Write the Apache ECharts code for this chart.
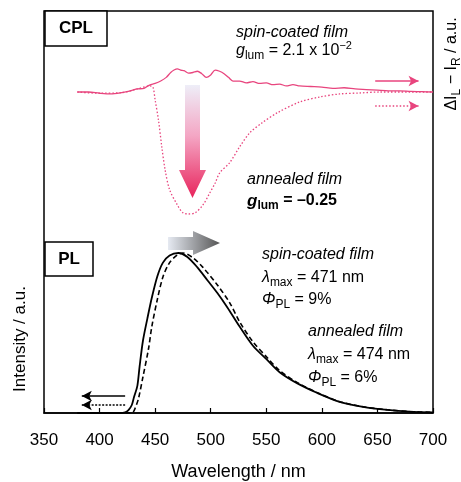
<!DOCTYPE html>
<html>
<head>
<meta charset="utf-8">
<script src="https://cdn.jsdelivr.net/npm/echarts@6.0.0/dist/echarts.min.js"></script>
<style>
  html, body { margin: 0; padding: 0; background: #fff; }
  #chart { width: 461px; height: 482px; }
</style>
</head>
<body>
<div id="chart"></div>
<script>
var FONT = '"Liberation Sans", Arial, sans-serif';
var PINK = '#e8457e';

// x axis (nm)
var xTicks = [350, 400, 450, 500, 550, 600, 650, 700];

// CPL, spin-coated film (right axis, a.u., baseline 0)
var cplSpinX = [380, 390, 400, 410, 420, 428, 434, 440, 445, 450, 455, 460, 464, 467, 470, 473, 476, 480, 484, 488, 492, 496, 500, 504, 508, 512, 516, 520, 526, 532, 538, 544, 550, 556, 562, 568, 574, 580, 590, 600, 610, 620, 630, 640, 650, 660, 670, 680, 690, 700];
var cplSpinY = [0, 0, -0.01, -0.016, -0.005, 0.01, 0.025, 0.03, 0.057, 0.07, 0.09, 0.12, 0.16, 0.18, 0.19, 0.18, 0.175, 0.155, 0.16, 0.17, 0.15, 0.12, 0.14, 0.18, 0.17, 0.15, 0.12, 0.09, 0.09, 0.075, 0.085, 0.07, 0.075, 0.06, 0.065, 0.05, 0.06, 0.05, 0.045, 0.04, 0.03, 0.035, 0.025, 0.02, 0.015, 0.01, 0.01, 0.005, 0.003, 0];

// CPL, annealed film
var cplAnnealX = [380, 400, 420, 434, 445, 448, 450, 453, 456, 459, 463, 470, 475, 480, 486, 493, 499, 504, 508, 517, 526, 535, 546, 560, 580, 598, 616, 634, 652, 700];
var cplAnnealY = [0, -0.01, -0.005, 0.025, 0.05, 0.04, -0.066, -0.23, -0.45, -0.64, -0.8, -0.926, -0.99, -1.0, -0.99, -0.926, -0.83, -0.746, -0.664, -0.58, -0.45, -0.336, -0.254, -0.17, -0.082, -0.041, -0.016, -0.008, 0, 0];

// PL, spin-coated film (left axis, normalised)
var plSpinX = [380, 400, 418, 423, 426, 429, 431, 434, 436, 439, 443, 447, 452, 457, 463, 471, 479, 488, 497, 506, 515, 526, 538, 551, 562, 578, 596, 616, 637, 659, 679, 700];
var plSpinY = [0, 0, 0, 0.004, 0.018, 0.05, 0.1, 0.17, 0.29, 0.45, 0.59, 0.72, 0.855, 0.94, 0.985, 1, 0.975, 0.91, 0.83, 0.75, 0.66, 0.54, 0.42, 0.33, 0.255, 0.185, 0.125, 0.07, 0.038, 0.019, 0.008, 0.003];

// PL, annealed film
var plAnnealX = [380, 400, 425, 430, 432, 435, 439, 444, 447, 452, 457, 463, 470, 475, 484, 493, 506, 517, 526, 538, 551, 562, 578, 596, 616, 637, 659, 679, 700];
var plAnnealY = [0, 0, 0, 0.005, 0.03, 0.09, 0.225, 0.4, 0.54, 0.71, 0.85, 0.94, 0.988, 1, 0.97, 0.91, 0.8, 0.69, 0.57, 0.445, 0.345, 0.265, 0.19, 0.127, 0.071, 0.039, 0.02, 0.009, 0.004];

// little arrows next to the curves: [x from, x to, y]
var cplArrowSpin = [648, 687, 0.09];
var cplArrowAnneal = [648, 687, -0.115];
var plArrowSpin = [423, 384, 0.106];
var plArrowAnneal = [423, 384, 0.05];

function pairs(xs, ys) {
  return xs.map(function (x, i) { return [x, ys[i]]; });
}

function arrow(a, color, type) {
  return {
    silent: true,
    animation: false,
    symbol: ['none', 'arrow'],
    symbolSize: [8, 10],
    label: { show: false },
    lineStyle: { color: color, width: 1.5, type: type },
    data: [[{ coord: [a[0], a[2]] }, { coord: [a[1], a[2]] }]]
  };
}

var rich = {
  n: { fontFamily: FONT, fontSize: 16, color: '#000', lineHeight: 22 },
  i: { fontFamily: FONT, fontSize: 16, fontStyle: 'italic', color: '#000', lineHeight: 22 },
  b: { fontFamily: FONT, fontSize: 16, fontWeight: 'bold', color: '#000', lineHeight: 22 },
  bi: { fontFamily: FONT, fontSize: 17, fontWeight: 'bold', fontStyle: 'italic', color: '#000', lineHeight: 22 },
  s: { fontFamily: FONT, fontSize: 12, color: '#000', lineHeight: 12, verticalAlign: 'bottom' },
  sb: { fontFamily: FONT, fontSize: 12, fontWeight: 'bold', color: '#000', lineHeight: 12, verticalAlign: 'bottom' },
  sup: { fontFamily: FONT, fontSize: 11, color: '#000', lineHeight: 12, verticalAlign: 'top' }
};

function label(x, y, text) {
  return {
    type: 'text', x: x, y: y, z: 10,
    style: { text: text, rich: rich, verticalAlign: 'middle', align: 'left' }
  };
}

function boxLabel(x, y, w, h, text) {
  return [
    { type: 'rect', shape: { x: x, y: y, width: w, height: h }, z: 10,
      style: { fill: '#fff', stroke: '#000', lineWidth: 1.5 } },
    { type: 'text', x: x + w / 2, y: y + h / 2, z: 11,
      style: { text: text, fontFamily: FONT, fontSize: 17, fontWeight: 'bold', fill: '#000',
               align: 'center', verticalAlign: 'middle' } }
  ];
}

var chart = echarts.init(document.getElementById('chart'));

var option = {
  animation: false,
  grid: {
    left: 44, right: 28, top: 11, bottom: 69,
    outerBoundsMode: 'none',
    show: true, borderColor: '#000', borderWidth: 1.5
  },
  xAxis: {
    type: 'value',
    min: xTicks[0],
    max: xTicks[xTicks.length - 1],
    interval: 50,
    name: 'Wavelength / nm',
    nameLocation: 'middle',
    nameGap: 50,
    nameTextStyle: { fontFamily: FONT, fontSize: 18, color: '#000' },
    axisLine: { lineStyle: { color: '#000', width: 1.5 } },
    axisTick: { inside: true, length: 5, lineStyle: { color: '#000', width: 1.2 } },
    axisLabel: { fontFamily: FONT, fontSize: 17, color: '#000', margin: 19 },
    splitLine: { show: false }
  },
  yAxis: [
    { type: 'value', min: 0, max: 2.5125, show: false },
    { type: 'value', min: -2.631, max: 0.664, show: false }
  ],
  series: [
    {
      name: 'CPL spin-coated', type: 'line', yAxisIndex: 1,
      data: pairs(cplSpinX, cplSpinY), showSymbol: false, smooth: 0.3,
      lineStyle: { color: PINK, width: 1.3 },
      markLine: arrow(cplArrowSpin, PINK, 'solid')
    },
    {
      name: 'CPL annealed', type: 'line', yAxisIndex: 1,
      data: pairs(cplAnnealX, cplAnnealY), showSymbol: false, smooth: 0.3,
      lineStyle: { color: PINK, width: 1.3, type: [1.5, 2] },
      markLine: arrow(cplArrowAnneal, PINK, [1.5, 2])
    },
    {
      name: 'PL spin-coated', type: 'line', yAxisIndex: 0,
      data: pairs(plSpinX, plSpinY), showSymbol: false, smooth: 0.3,
      lineStyle: { color: '#000', width: 1.8 },
      markLine: arrow(plArrowSpin, '#000', 'solid')
    },
    {
      name: 'PL annealed', type: 'line', yAxisIndex: 0,
      data: pairs(plAnnealX, plAnnealY), showSymbol: false, smooth: 0.3,
      lineStyle: { color: '#000', width: 1.6, type: [5, 3] },
      markLine: arrow(plArrowAnneal, '#000', [2, 1.5])
    }
  ],
  graphic: [].concat(
    boxLabel(45, 11, 62, 35, 'CPL'),
    boxLabel(45, 242, 48, 34, 'PL'),
    [
      // big pink arrow (CPL inversion)
      { type: 'polygon', z: 5,
        shape: { points: [[185, 85], [200, 85], [200, 170], [206, 170], [192.5, 198], [179, 170], [185, 170]] },
        style: { fill: new echarts.graphic.LinearGradient(0, 0, 0, 1, [
          { offset: 0, color: '#eeeef8' }, { offset: 0.45, color: '#f4a6c4' }, { offset: 1, color: '#e8245c' }]) } },
      // grey arrow (red shift)
      { type: 'polygon', z: 5,
        shape: { points: [[168, 237], [193, 237], [193, 231], [220, 243], [193, 255], [193, 250], [168, 250]] },
        style: { fill: new echarts.graphic.LinearGradient(0, 0, 1, 0, [
          { offset: 0, color: '#e6eaf2' }, { offset: 1, color: '#555555' }]) } },

      label(236, 33, '{i|spin-coated film}'),
      label(236, 51, '{i|g}{s|lum}{n| = 2.1 x 10}{sup|−2}'),
      label(247, 180, '{i|annealed film}'),
      label(247, 201, '{bi|g}{sb|lum}{b| = –0.25}'),

      label(262, 255, '{i|spin-coated film}'),
      label(262, 278, '{i|λ}{s|max}{n| = 471 nm}'),
      label(262, 300, '{i|Φ}{s|PL}{n| = 9%}'),
      label(308, 332, '{i|annealed film}'),
      label(308, 355, '{i|λ}{s|max}{n| = 474 nm}'),
      label(308, 378, '{i|Φ}{s|PL}{n| = 6%}'),

      { type: 'text', x: 20, y: 339, rotation: Math.PI / 2, z: 10,
        style: { text: 'Intensity / a.u.', fontFamily: FONT, fontSize: 17, fill: '#000',
                 align: 'center', verticalAlign: 'middle' } },
      { type: 'text', x: 452, y: 64, rotation: Math.PI / 2, z: 10,
        style: { text: '{n|ΔI}{s|L}{n| − I}{s|R}{n| / a.u.}', rich: rich,
                 align: 'center', verticalAlign: 'middle' } }
    ]
  )
};

chart.setOption(option);
</script>
</body>
</html>
